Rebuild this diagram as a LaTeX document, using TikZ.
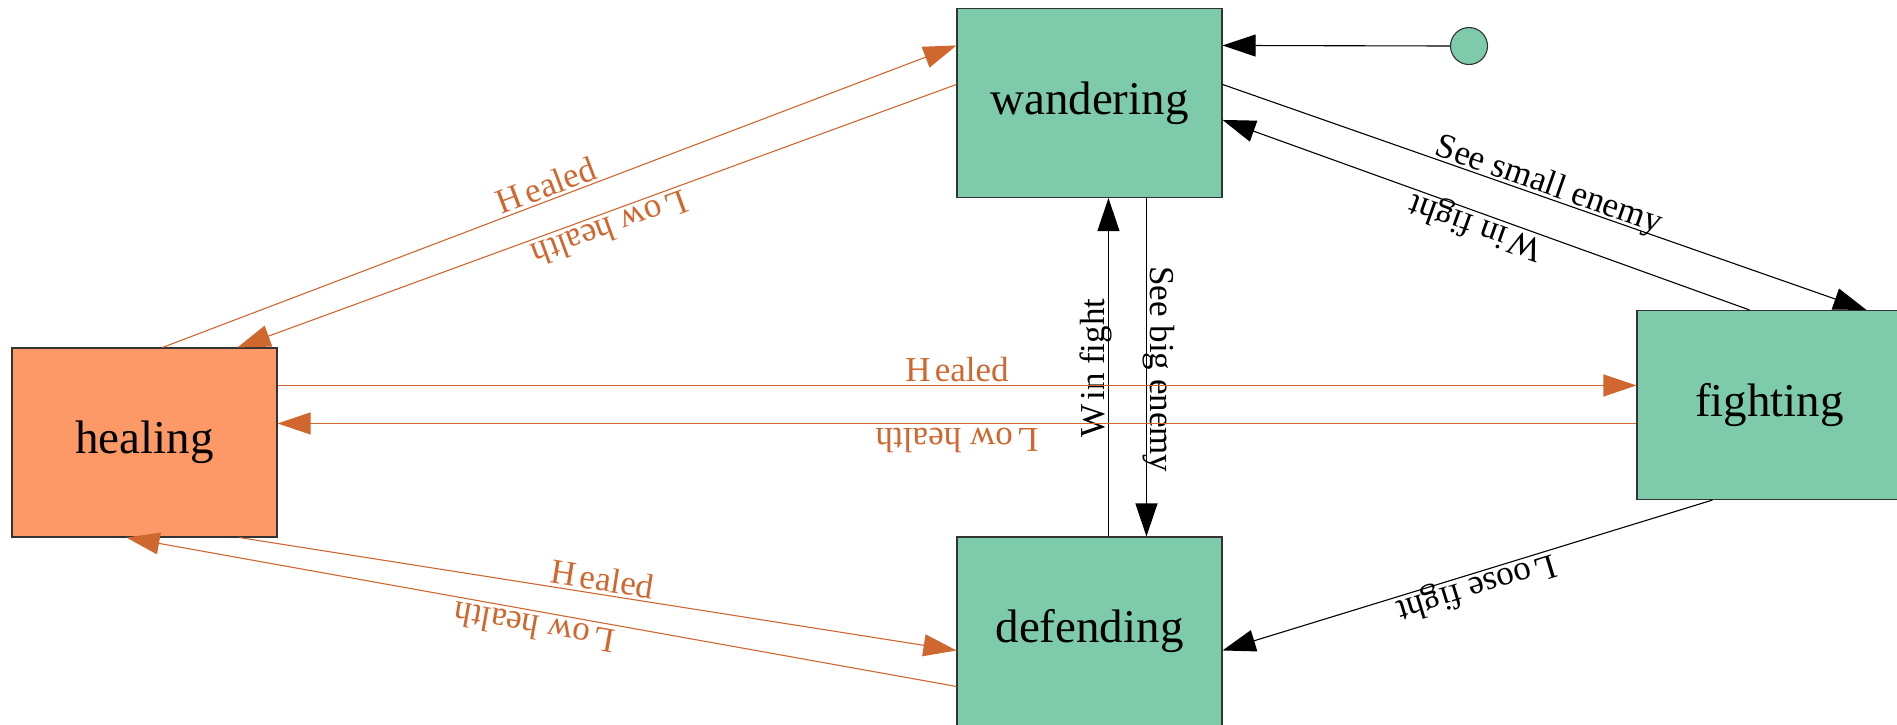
\documentclass[tikz,border=0pt]{standalone}
\usepackage{fontspec}
\setmainfont{Liberation Serif}
\usetikzlibrary{arrows.meta}
\definecolor{stategreen}{HTML}{7DCBAB}
\definecolor{healfill}{HTML}{FD9966}
\definecolor{healline}{HTML}{D0672F}

\begin{document}
\begin{tikzpicture}[x=1pt,y=-1pt,
  state/.style={draw=black!80, line width=1.1pt, fill=stategreen,
    minimum width=265pt, minimum height=189pt, inner sep=0pt,
    font=\fontsize{47}{56}\selectfont},
  edge/.style={line width=1.1pt, -{Triangle[length=33pt,width=22pt]}},
  hedge/.style={edge, draw=healline, color=healline},
  lbl/.style={sloped, allow upside down, above, inner sep=0pt,
    text height=0.75em, text depth=0.3em,
    font=\fontsize{35}{42}\selectfont},
  % labels on leftward edges read upside down; keep them a bit off the line
  flip/.style={lbl, text depth=0.42em},
]
\useasboundingbox (0,0) rectangle (1897,724);

% states
\node[state] (wandering) at (1089.5,103) {wandering};
\node[state, fill=healfill] (healing) at (144.5,442.5) {healing};
\node[state] (fighting) at (1769.5,405) {fighting};
\node[state] (defending) at (1089.5,631.5) {defending};
\node[circle, draw=black!80, line width=1.1pt, fill=stategreen,
      minimum size=37pt, inner sep=0pt] (init) at (1469,46) {};

% start transition
\draw[edge] (init.west) -- ([yshift=-37.5pt]wandering.north east);

% wandering <-> fighting
\draw[edge] ([yshift=-76.5pt]wandering.north east)
  -- node[lbl,pos=0.5]{See small enemy} ([xshift=230pt]fighting.north west);
\draw[edge] ([xshift=113pt]fighting.north west)
  -- node[flip,pos=0.51]{W\kern0.12em in fight} ([yshift=-112pt]wandering.north east);

% wandering <-> defending
\draw[edge] ([xshift=190pt]wandering.south west)
  -- node[lbl,pos=0.506]{See big enemy} ([xshift=190pt]defending.north west);
\draw[edge] ([xshift=152pt]defending.north west)
  -- node[lbl,pos=0.497]{W\kern0.12em in fight} ([xshift=152pt]wandering.south west);

% fighting -> defending
\draw[edge] ([xshift=76pt]fighting.south west)
  -- node[flip,pos=0.49]{L\kern0.12em oose fight} ([yshift=-114pt]defending.north east);

% healing <-> wandering
\draw[hedge] ([xshift=151pt]healing.north west)
  -- node[lbl,pos=0.49]{H\kern0.12em ealed} ([yshift=-37.5pt]wandering.north west);
\draw[hedge] ([yshift=-76.5pt]wandering.north west)
  -- node[flip,pos=0.49]{L\kern0.12em ow health} ([xshift=226pt]healing.north west);

% healing <-> fighting
\draw[hedge] ([yshift=-38pt]healing.north east)
  -- node[lbl,pos=0.5]{H\kern0.12em ealed} ([yshift=-75.5pt]fighting.north west);
\draw[hedge] ([yshift=-113.5pt]fighting.north west)
  -- node[flip,pos=0.5]{L\kern0.12em ow health} ([yshift=-76pt]healing.north east);

% healing <-> defending
\draw[hedge] ([xshift=228pt]healing.south west)
  -- node[lbl,pos=0.503]{H\kern0.12em ealed} ([yshift=-114pt]defending.north west);
\draw[hedge] ([yshift=-150pt]defending.north west)
  -- node[flip,pos=0.505]{L\kern0.12em ow health} ([xshift=115pt]healing.south west);
\end{tikzpicture}
\end{document}
